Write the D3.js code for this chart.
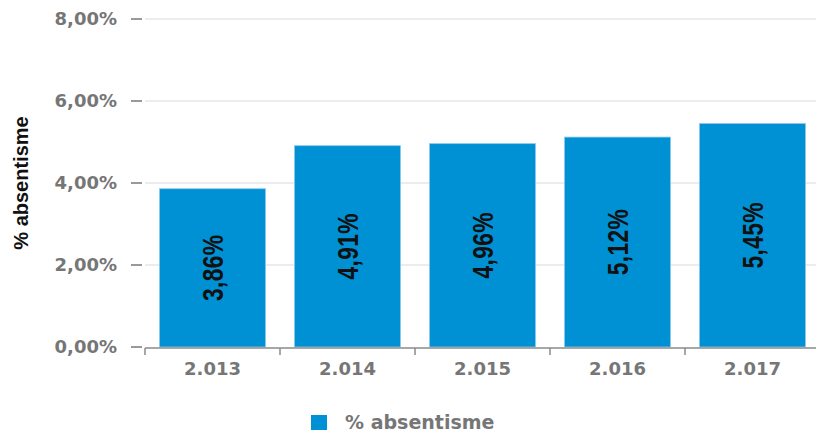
<!DOCTYPE html>
<html>
<head>
<meta charset="utf-8">
<script src="https://cdn.jsdelivr.net/npm/d3@7"></script>
<style>
  body { margin: 0; background: #fff; }
  svg { display: block; font-family: "DejaVu Sans", Verdana, sans-serif; }
</style>
</head>
<body>
<svg id="chart" width="816" height="434"></svg>
<script>
var years = ["2.013", "2.014", "2.015", "2.016", "2.017"];
var absentisme = [3.86, 4.91, 4.96, 5.12, 5.45];
var yTicks = [0, 2, 4, 6, 8];
var seriesName = "% absentisme";

var svg = d3.select("#chart");
var width = 816, height = 434;

var x = d3.scaleBand()
  .domain(years)
  .range([145, 820]);

var y = d3.scaleLinear()
  .domain([0, 8])
  .range([347, 19]);

function fmt(v) {
  return v.toFixed(2).replace(".", ",") + "%";
}

// gridlines
svg.append("g")
  .selectAll("line")
  .data(yTicks.slice(1))
  .enter().append("line")
  .attr("x1", 145)
  .attr("x2", width)
  .attr("y1", d => y(d))
  .attr("y2", d => y(d))
  .attr("stroke", "#e6e6e6")
  .attr("stroke-width", 1.5);

// y axis ticks and labels
var yAxis = svg.append("g");
yAxis.selectAll("line")
  .data(yTicks)
  .enter().append("line")
  .attr("x1", 131)
  .attr("x2", 142)
  .attr("y1", d => y(d))
  .attr("y2", d => y(d))
  .attr("stroke", "#777")
  .attr("stroke-width", 1.5);

yAxis.selectAll("text")
  .data(yTicks)
  .enter().append("text")
  .attr("x", 117)
  .attr("y", d => y(d))
  .attr("dy", "0.36em")
  .attr("text-anchor", "end")
  .attr("fill", "#767676")
  .style("font-size", "18px")
  .style("font-weight", "bold")
  .text(d => fmt(d));

// bars
var barW = 106;
svg.append("g")
  .selectAll("rect")
  .data(absentisme)
  .enter().append("rect")
  .attr("x", (d, i) => x(years[i]) + x.bandwidth() / 2 - barW / 2)
  .attr("width", barW)
  .attr("y", d => y(d))
  .attr("height", d => y(0) - y(d))
  .attr("fill", "#0090d4")
  .attr("stroke", "#8cc8ec")
  .attr("stroke-width", 0.8);

// value labels, condensed along the text direction
svg.append("g")
  .selectAll("text")
  .data(absentisme)
  .enter().append("text")
  .attr("transform", (d, i) => {
    var cx = x(years[i]) + x.bandwidth() / 2;
    var cy = (y(d) + y(0)) / 2;
    return "translate(" + cx + "," + cy + ") rotate(-90) scale(0.76,1)";
  })
  .attr("text-anchor", "middle")
  .attr("dy", "0.36em")
  .attr("fill", "#111")
  .style("font-family", "'Liberation Sans', Arial, sans-serif")
  .style("font-size", "30px")
  .style("font-weight", "bold")
  .style("letter-spacing", "0.5px")
  .text(d => fmt(d));

// x axis line and ticks
var xAxis = svg.append("g");
xAxis.append("line")
  .attr("x1", 145)
  .attr("x2", width)
  .attr("y1", y(0) + 1)
  .attr("y2", y(0) + 1)
  .attr("stroke", "#8a8a8a")
  .attr("stroke-width", 1.5);

xAxis.selectAll(".tick")
  .data(years)
  .enter().append("line")
  .attr("class", "tick")
  .attr("x1", d => x(d))
  .attr("x2", d => x(d))
  .attr("y1", y(0) + 1)
  .attr("y2", y(0) + 8)
  .attr("stroke", "#8a8a8a")
  .attr("stroke-width", 1.5);

xAxis.selectAll("text")
  .data(years)
  .enter().append("text")
  .attr("x", d => x(d) + x.bandwidth() / 2)
  .attr("y", 375)
  .attr("text-anchor", "middle")
  .attr("fill", "#767676")
  .style("font-size", "18px")
  .style("font-weight", "bold")
  .text(d => d);

// y axis title
svg.append("text")
  .attr("transform", "translate(28," + ((y(0) + y(8)) / 2) + ") rotate(-90)")
  .attr("text-anchor", "middle")
  .attr("fill", "#111")
  .style("font-family", "'Liberation Sans', Arial, sans-serif")
  .style("font-size", "20px")
  .style("font-weight", "bold")
  .text(seriesName);

// legend
var legend = svg.append("g").attr("transform", "translate(311,415)");
legend.append("rect")
  .attr("width", 16)
  .attr("height", 15)
  .attr("fill", "#0090d4");
legend.append("text")
  .attr("x", 34)
  .attr("y", 14)
  .attr("fill", "#767676")
  .style("font-size", "19px")
  .style("font-weight", "bold")
  .text(seriesName);
</script>
</body>
</html>
